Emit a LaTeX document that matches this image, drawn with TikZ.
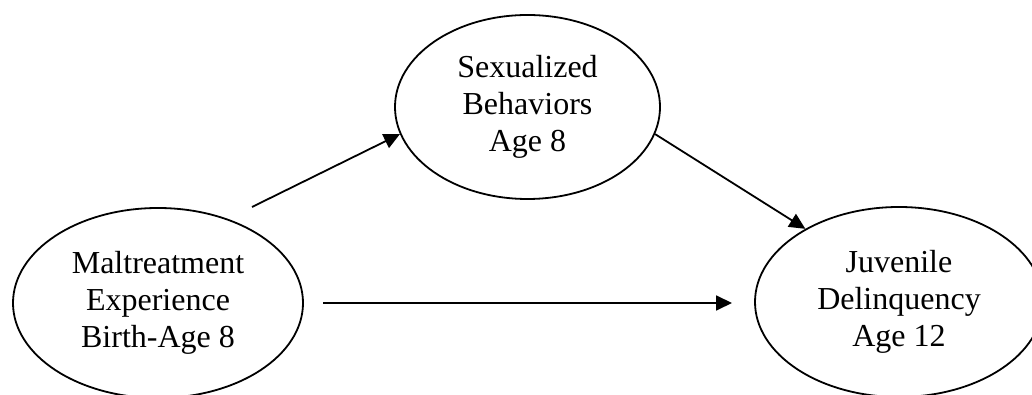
\documentclass[tikz,border=0pt]{standalone}
\usepackage{fontspec}
\setmainfont{Liberation Serif}
\usetikzlibrary{shapes.geometric,arrows.meta}
\begin{document}
\begin{tikzpicture}[x=1pt,y=1pt,
  construct/.style={ellipse, draw, line width=1.8pt, inner sep=0pt, align=center,
    font=\fontsize{32}{37}\selectfont},
  path/.style={line width=1.8pt, -{Triangle[length=16pt,width=15pt]}}]
  \useasboundingbox (0,0) rectangle (1032,395);
  % latent constructs
  \node[construct, minimum width=290pt, minimum height=190pt] (mal) at (158,92)
    {Maltreatment\\Experience\\Birth-Age 8};
  \node[construct, minimum width=265pt, minimum height=184pt] (sex) at (527.5,288)
    {Sexualized\\Behaviors\\Age 8};
  \node[construct, minimum width=288pt, minimum height=190pt] (juv) at (899,93)
    {Juvenile\\Delinquency\\Age 12};
  % free ends of the paths
  \coordinate (p1) at (252,188);
  \coordinate (p2) at (323,92);
  \coordinate (p3) at (732,92);
  % paths
  \draw[path] (p1) -- (sex.192);
  \draw[path] (sex.348) -- (juv.142.5);
  \draw[path] (p2) -- (p3);
\end{tikzpicture}
\end{document}
